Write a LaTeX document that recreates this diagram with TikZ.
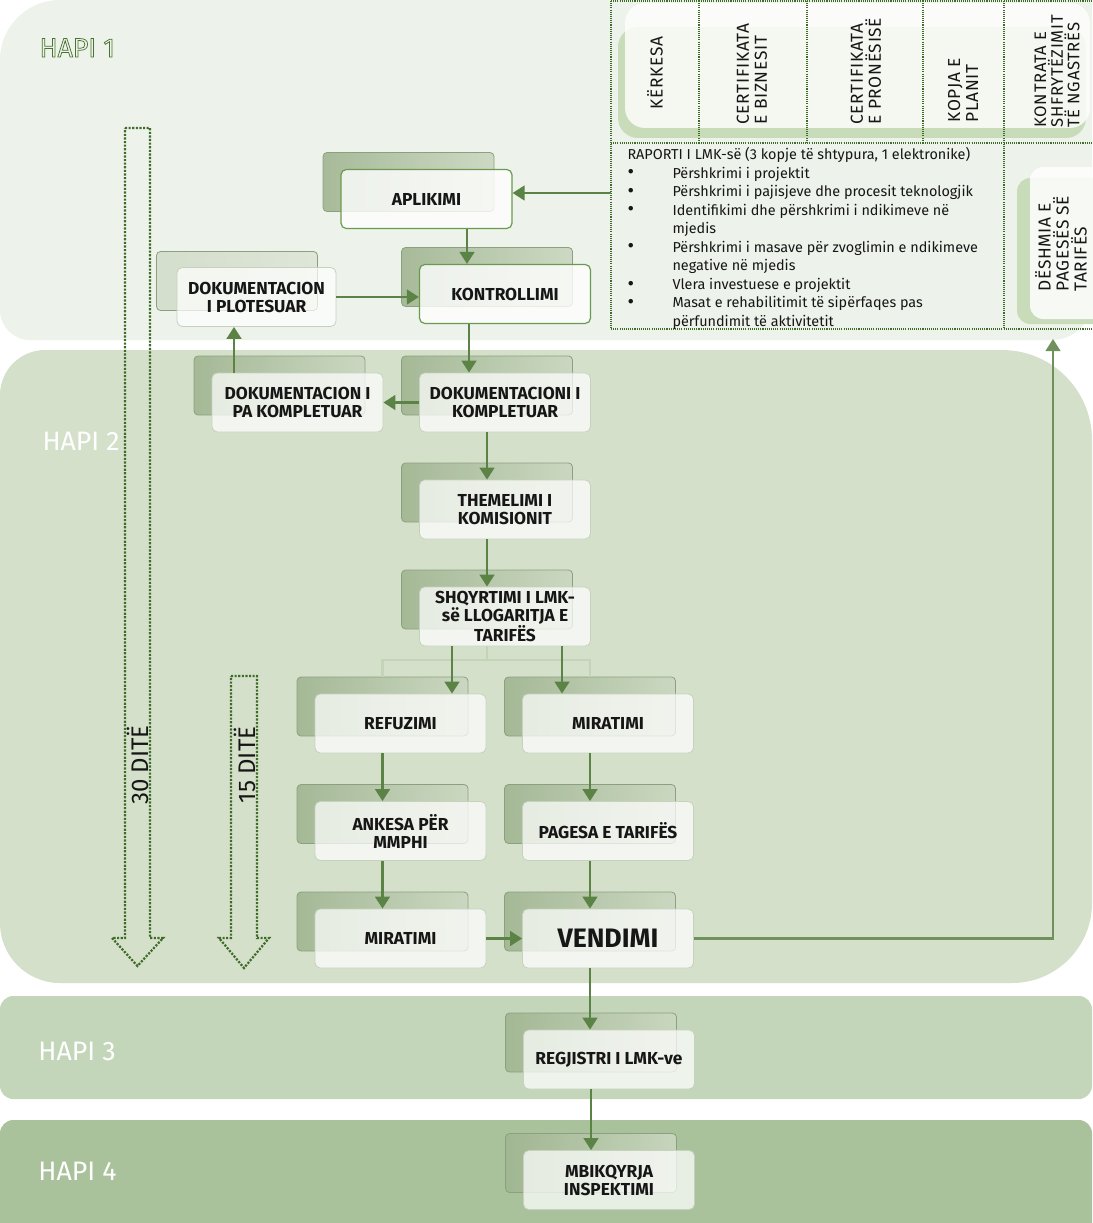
\documentclass[tikz,border=0pt]{standalone}
\usepackage{fontspec}
\setmainfont{Fira Sans}
\newfontfamily\tabfont{Fira Sans}[LetterSpace=4]
\usetikzlibrary{arrows.meta,calc,positioning}

\definecolor{bandone}{RGB}{237,242,234}
\definecolor{bandtwo}{RGB}{213,224,203}
\definecolor{bandthree}{RGB}{196,214,185}
\definecolor{bandfour}{RGB}{170,194,156}
\definecolor{flowgreen}{RGB}{92,131,70}
\definecolor{longgreen}{RGB}{112,145,94}
\definecolor{dotgreen}{RGB}{62,108,40}
\definecolor{hapigreen}{RGB}{70,115,45}
\definecolor{keyline}{RGB}{106,154,82}
\definecolor{backdark}{RGB}{160,181,145}
\definecolor{backlight}{RGB}{202,215,192}
\definecolor{backline}{RGB}{140,160,128}
\definecolor{frontline}{RGB}{198,210,190}
\definecolor{tabgreen}{RGB}{200,220,185}
\definecolor{bracketgreen}{RGB}{196,212,185}
\definecolor{txtdark}{RGB}{22,22,22}

\newcommand{\outlined}[1]{\special{pdf:literal direct 1 Tr 0.55 w}#1\special{pdf:literal direct 0 Tr}}
\newcommand{\bul}{\raisebox{-0.6pt}{\fontsize{15}{13.9}\selectfont\textbullet}}

\tikzset{every picture/.style={line width=0.75pt}}
\tikzset{
  backbox/.style={draw=backline, line width=0.6pt, rounded corners=3pt, left color=backdark, right color=backlight, fill opacity=0.9, minimum width=128.25pt, minimum height=44.25pt, inner sep=0pt},
  frontbox/.style={draw=frontline, line width=0.6pt, rounded corners=4pt, fill=white, fill opacity=0.72, text opacity=1, text=txtdark, minimum width=128.25pt, minimum height=44.25pt, inner sep=1pt, align=center, font=\bfseries\fontsize{13}{13.5}\selectfont},
  keybox/.style={frontbox, draw=keyline, line width=0.9pt, fill opacity=0.8},
  flow/.style={draw=flowgreen, line width=1.9pt, -{Triangle[length=9pt,width=11pt]}},
  dayarrow/.style={draw=dotgreen, line width=1.7pt, dash pattern=on 1.6pt off 1.1pt},
  tabline/.style={draw=dotgreen, line width=0.9pt, dash pattern=on 0.8pt off 0.8pt},
  hapi/.style={anchor=base west, inner sep=0pt, font=\fontsize{20}{24}\selectfont, text=white},
  tabtext/.style={rotate=90, anchor=west, inner sep=0pt, align=left, font=\tabfont\fontsize{13}{13.5}\selectfont, text=txtdark},
}

\begin{document}
\begin{tikzpicture}[x=0.75pt,y=0.75pt,yscale=-1]
\useasboundingbox (0,0) rectangle (1092,1223);

% bands
\fill[bandone] (0,60) arc[start angle=180, end angle=270, radius=60] -- (1092,0) -- (1092,300) arc[start angle=0, end angle=90, radius=40] -- (30,340) arc[start angle=90, end angle=180, radius=30] -- cycle;
\fill[bandtwo] (0,923) -- (0,395) arc[start angle=180, end angle=270, radius=45] -- (1002,350) arc[start angle=270, end angle=360, radius=90] -- (1092,903) arc[start angle=0, end angle=90, radius=80] -- (60,983) arc[start angle=90, end angle=180, radius=60] -- cycle;
\fill[bandthree, rounded corners=10pt] (0,996) rectangle (1092,1099);
\fill[bandfour, rounded corners=10pt] (0,1120) rectangle (1092,1240);

% documents table
\fill[tabgreen, rounded corners=15pt] (618,27) rectangle (1086,138);
\fill[white, fill opacity=0.8, rounded corners=15pt] (625,3) rectangle (1090,128);
\fill[tabgreen, rounded corners=10pt] (1017,178) rectangle (1110,324);
\fill[white, fill opacity=0.85, rounded corners=10pt] (1030,167) rectangle (1110,319);

\draw[tabline] (611,1) -- (1092,1);
\draw[tabline] (611,1) -- (611,329);
\draw[tabline] (611,143) -- (1092,143);
\draw[tabline] (611,329) -- (1092,329);
\foreach \x in {699,807,923} \draw[tabline] (\x,1) -- (\x,143);
\draw[tabline] (1004,1) -- (1004,329);

\node[tabtext] (kerk) at (655,110) {KËRKESA};
\node[tabtext] (cbiz) at (752,125) {CERTIFIKATA\\E BIZNESIT};
\node[tabtext] (cpro) at (866,125) {CERTIFIKATA\\E PRONËSISË};
\node[tabtext] (kopja) at (963,123) {KOPJA E\\PLANIT};
\node[tabtext, font=\tabfont\fontsize{12.5}{12.5}\selectfont] (kontr) at (1057,128) {KONTRATA E\\SHFRYTËZIMIT\\TË NGASTRËS};
\node[tabtext] (desh) at (1061,292) {DËSHMIA E\\PAGESËS SË\\TARIFËS};

\node[anchor=north west, inner sep=0pt, text=txtdark, font=\fontsize{10.8}{13.9}\selectfont] (rap) at (627,146) {%
\begin{tabular}{@{}p{33.75pt}@{}l@{}}
\multicolumn{2}{@{}l@{}}{RAPORTI I LMK-së (3 kopje të shtypura, 1 elektronike)}\\
\bul & Përshkrimi i projektit\\
\bul & Përshkrimi i pajisjeve dhe procesit teknologjik\\
\bul & Identifikimi dhe përshkrimi i ndikimeve në\\
 & mjedis\\
\bul & Përshkrimi i masave për zvoglimin e ndikimeve\\
 & negative në mjedis\\
\bul & Vlera investuese e projektit\\
\bul & Masat e rehabilitimit të sipërfaqes pas\\
 & përfundimit të aktivitetit
\end{tabular}};

% day arrows
\draw[dayarrow] (125,128) -- (150,128) -- (150,938) -- (163,938) -- (137.5,966) -- (112,938) -- (125,938) -- cycle;
\draw[dayarrow] (231,676) -- (257,676) -- (257,938) -- (269,938) -- (244,968) -- (219,938) -- (231,938) -- cycle;
\node[rotate=90, inner sep=0pt, text=txtdark, font=\fontsize{18}{20}\selectfont] (d30) at (138,765) {30 DITË};
\node[rotate=90, inner sep=0pt, text=txtdark, font=\fontsize{18}{20}\selectfont] (d15) at (245,765) {15 DITË};

% steps
\node[backbox] (apl-b) at (408.5,182) {};
\node[keybox] (apl) at ($(apl-b)+(18,17)$) {APLIKIMI};
\node[backbox] (kon-b) at (487,277) {};
\node[keybox] (kon) at ($(kon-b)+(18,17)$) {KONTROLLIMI};
\node[backbox, minimum width=120.75pt, left color=backlight!85!white, right color=backlight!65!white] (plot-b) at (237,281) {};
\node[frontbox, minimum width=119.25pt] (plot) at ($(plot-b)+(19.5,16)$) {DOKUMENTACION\\I PLOTESUAR};
\node[backbox] (pa-b) at (279.5,385.5) {};
\node[frontbox] (pa) at ($(pa-b)+(18,17)$) {DOKUMENTACION I\\PA KOMPLETUAR};
\node[backbox] (dok-b) at (487,385.5) {};
\node[frontbox] (dok) at ($(dok-b)+(18,17)$) {DOKUMENTACIONI I\\KOMPLETUAR};
\node[backbox] (them-b) at (487,492.5) {};
\node[frontbox] (them) at ($(them-b)+(18,17)$) {THEMELIMI I\\KOMISIONIT};
\node[backbox] (shq-b) at (487,599.5) {};
\node[frontbox] (shq) at ($(shq-b)+(18,17)$) {SHQYRTIMI I LMK-\\së LLOGARITJA E\\TARIFËS};
\node[backbox] (ref-b) at (382.5,706.5) {};
\node[frontbox] (ref) at ($(ref-b)+(18,17)$) {REFUZIMI};
\node[backbox] (mirr-b) at (590,706.5) {};
\node[frontbox] (mirr) at ($(mirr-b)+(18,17)$) {MIRATIMI};
\node[backbox] (ank-b) at (382.5,814) {};
\node[frontbox] (ank) at ($(ank-b)+(18,17)$) {ANKESA PËR\\MMPHI};
\node[backbox] (pag-b) at (590,814) {};
\node[frontbox] (pag) at ($(pag-b)+(18,17)$) {PAGESA E TARIFËS};
\node[backbox] (miral-b) at (382.5,921.5) {};
\node[frontbox] (miral) at ($(miral-b)+(18,17)$) {MIRATIMI};
\node[backbox] (vend-b) at (590,921.5) {};
\node[frontbox, font=\bfseries\fontsize{20}{22}\selectfont] (vend) at ($(vend-b)+(18,17)$) {VENDIMI};
\node[backbox] (reg-b) at (591,1042.5) {};
\node[frontbox] (reg) at ($(reg-b)+(18,17)$) {REGJISTRI I LMK-ve};
\node[backbox] (mbi-b) at (591,1163) {};
\node[frontbox] (mbi) at ($(mbi-b)+(18,17)$) {MBIKQYRJA\\INSPEKTIMI};

% light bracket under the review step
\draw[bracketgreen, line width=1.6pt] (shq.south -| shq-b) -- ++(0,14) coordinate (brk);
\draw[bracketgreen, line width=1.6pt] (ref-b.north) |- (brk) -| (mirr-b.north);

% connectors
\coordinate (rapin) at (611,193);
\draw[flow] (rapin) -- (rapin -| apl.east);
\coordinate (c1) at ($(apl.south)+(40.5,0)$);
\draw[flow] (c1) -- (c1 |- kon.north);
\coordinate (c2) at ($(kon.south)+(-36,0)$);
\draw[flow] (c2) -- (c2 |- dok.north);
\draw[flow] (dok) -- (pa);
\coordinate (c6) at ($(pa.north)+(-63.5,0)$);
\draw[flow] (c6) -- (c6 |- plot.south);
\draw[flow] (plot.east) -- (plot.east -| kon.west);
\draw[flow] (dok.south -| dok-b) -- (them.north -| dok-b);
\draw[flow] (them.south -| them-b) -- (shq.north -| them-b);
\coordinate (c3) at ($(shq.south)+(-53,0)$);
\draw[flow] (c3) -- (c3 |- ref.north);
\coordinate (c4) at ($(shq.south)+(57,0)$);
\draw[flow] (c4) -- (c4 |- mirr.north);
\draw[flow] (ref.south -| ref-b) -- (ank.north -| ref-b);
\draw[flow] (ank.south -| ank-b) -- (miral.north -| ank-b);
\draw[flow] (mirr.south -| mirr-b) -- (pag.north -| mirr-b);
\draw[flow] (pag.south -| pag-b) -- (vend.north -| pag-b);
\draw[flow] (miral) -- (vend);
\draw[flow] (vend.south -| vend-b) -- (reg.north -| vend-b);
\draw[flow] (reg.south -| reg-b) -- (mbi.north -| reg-b);
\coordinate (deshin) at (1053,339);
\draw[flow, draw=longgreen, line width=1.6pt] (vend.east) -| (deshin);

% step labels
\node[hapi] (h2) at (42,450) {HAPI 2};
\node[hapi] (h3) at (38,1060) {HAPI 3};
\node[hapi] (h4) at (38,1180) {HAPI 4};
\node[hapi, text=hapigreen] (h1) at (39,57) {\outlined{HAPI 1}};

\end{tikzpicture}
\end{document}
